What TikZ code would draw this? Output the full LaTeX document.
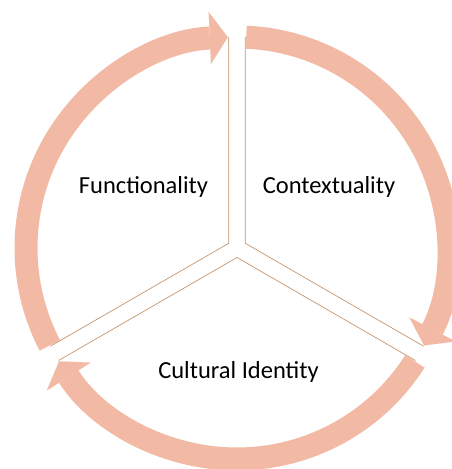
\documentclass[tikz,border=0pt]{standalone}
\usepackage{fontspec}
\setmainfont{Carlito}
\usepackage{tikz}
\usetikzlibrary{arrows.meta, calc}
\definecolor{salmon}{HTML}{F2BAA5}
\definecolor{seamtan}{HTML}{C4956F}

\tikzset{
    ring/.style={salmon, line width=23pt,
        -{Triangle[width=52pt, length=18pt, line width=0.01pt]}},
    seamline/.style={seamtan, line width=0.7pt},
    segtext/.style={font=\fontsize{24.5}{29}\selectfont, anchor=base}
}

\begin{document}
\begin{tikzpicture}[x=1pt, y=1pt]
    \useasboundingbox (-237,-221) rectangle (214,248);
    \coordinate (hub) at (0,0);
    % corners of the three segments, pushed off the hub
    \coordinate (fcorner) at ($(hub)+(150:9.5)$);
    \coordinate (ccorner) at ($(hub)+(30:9.5)$);
    \coordinate (ucorner) at ($(hub)+(-90:9.5)$);
    % seams
    \draw[seamline] ($(fcorner)+(90:206)$) -- (fcorner) -- ($(fcorner)+(210:206)$);
    \draw[seamline] ($(ccorner)+(90:206)$) -- (ccorner) -- ($(ccorner)+(-30:206)$);
    \draw[seamline] ($(ucorner)+(210:206)$) -- (ucorner) -- ($(ucorner)+(-30:206)$);
    % arrows round the cycle, clockwise
    \foreach \a in {87.5, -32.5, -152.5}
        \draw[ring] ($(hub)+(\a:211)$) arc[start angle=\a, end angle=\a-115, radius=211];
    \node[segtext] (func) at (-93.5,55) {Functionality};
    \node[segtext] (cont) at (92,55) {Contextuality};
    \node[segtext] (cult) at (1.5,-130) {Cultural Identity};
\end{tikzpicture}
\end{document}
